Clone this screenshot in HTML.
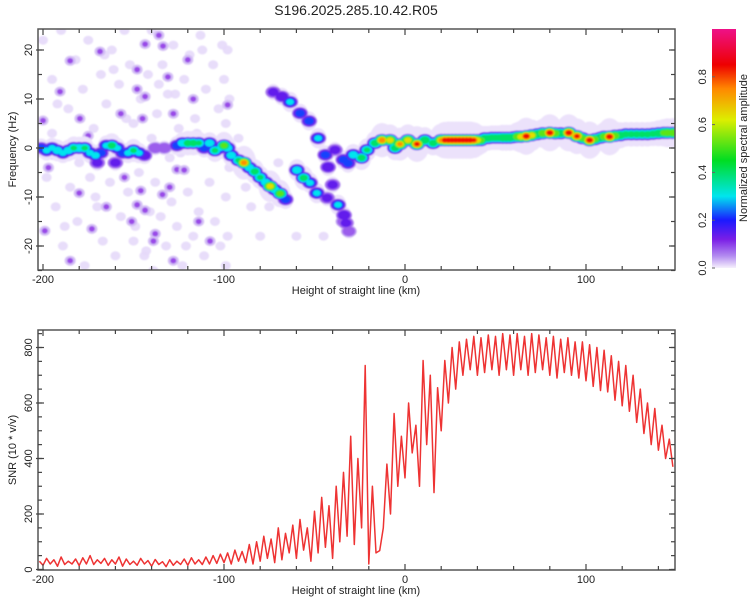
<!DOCTYPE html>
<html><head><meta charset="utf-8"><style>
html,body{margin:0;padding:0;background:#fff;}
svg{display:block;font-family:"Liberation Sans",sans-serif;}
</style></head><body>
<svg id="chart" width="750" height="600" viewBox="0 0 750 600" xmlns="http://www.w3.org/2000/svg">
<defs>
<clipPath id="clipTop"><rect x="38" y="29" width="637" height="241"/></clipPath>
<clipPath id="clipBot"><rect x="38" y="330" width="637" height="240"/></clipPath>
<filter id="soft" x="-5%" y="-5%" width="110%" height="110%"><feGaussianBlur stdDeviation="0.9"/></filter>
<linearGradient id="cbgrad" x1="0" y1="1" x2="0" y2="0">
<stop offset="0" stop-color="#f6f0fc"/><stop offset="0.05" stop-color="#b38cf0"/>
<stop offset="0.12" stop-color="#7a1ee6"/><stop offset="0.2" stop-color="#1a1aff"/>
<stop offset="0.3" stop-color="#00e5ee"/><stop offset="0.45" stop-color="#00dd22"/>
<stop offset="0.62" stop-color="#ddee00"/><stop offset="0.75" stop-color="#ff8800"/>
<stop offset="0.85" stop-color="#ee0000"/><stop offset="1" stop-color="#ee1188"/>
</linearGradient>
</defs>
<text x="356" y="15" font-size="14" text-anchor="middle" fill="#222">S196.2025.285.10.42.R05</text>
<g id="topPanel"></g>
<g id="botPanel"></g>
<g id="cb">
<rect x="712" y="29" width="24" height="239" fill="url(#cbgrad)"/>
<text transform="translate(747,148) rotate(-90)" font-size="11" text-anchor="middle" fill="#222">Normalized spectral amplitude</text>
</g>
</svg>
<script>
// ---------- data ----------
const ridgeH=[-201,-198,-195,-192,-189,-186,-183,-180,-177,-174,-171,-168,-165,-162,-159,-156,-153,-150,-147,-144,-170,-160,-138,-133,
-126,-123,-120,-117,-114,-111,-108,-105,-102,-100,-98,-96,-92,-89,-86,-83,-80,-77,-74.5,-72,-69,-66,
-72.8,-68,-63.5,-58,-53,-48,-44,-42.5,-40,-37,-33.7,-32.6,-34,-31,
-59.7,-56,-52.5,-48.7,-43,
-38.7,-34,-31.5,-28.6,-24,-21,-16.6,-12.7,-8.3,-5.5,-2.8,1.6,6.6,11,15.5,
20,22,24,26,28,30,32,34,36,38,40,42,44,46,48,50,52,54,56,58,60,62,64,67,70,73,76,80,83,86,90.5,95,98,102,105,108,110,113,116,119,122,125,128,131,134,137,140,143,145,148];
const ridgeF=[0,-0.5,0,-0.5,-1,-0.5,0,0,0,-1,-1.5,-1,0.5,0.5,0,-1,-1,-0.5,-1,-1.5,-3,-3,0,0,
0.5,1,1,1,1,0,1,-0.5,0,0.5,0,-1.5,-2.5,-3,-4,-4.8,-6,-7,-7.8,-8.5,-9.3,-10.5,
11.4,10.5,9.4,7.1,5.5,2,-1.4,-3.9,-7.5,-11.6,-13.7,-15.3,-15,-17,
-4.5,-6.1,-7.1,-9.2,-10.2,
-0.4,-2.4,-3.1,-1.4,-2,-0.4,1,1.6,1.6,0,0.8,1.6,0.8,1.6,1,
1.6,1.6,1.6,1.6,1.6,1.6,1.6,1.6,1.6,1.6,1.6,1.6,2,2,2.1,2.1,2.1,2.1,2.1,2.1,2.2,2.3,2.3,2.4,2.6,2.8,3,3.1,3,3,3.1,2.4,2,1.6,1.8,2.1,2.3,2.3,2.5,2.6,2.8,2.8,2.8,2.8,2.8,2.9,3,3.1,3.1,3.1,3.2];
const ridgeA=[0.25,0.3,0.3,0.35,0.3,0.35,0.4,0.38,0.4,0.3,0.32,0.25,0.3,0.45,0.3,0.25,0.3,0.4,0.3,0.2,0.15,0.15,0.1,0.1,
0.25,0.35,0.45,0.45,0.4,0.25,0.35,0.4,0.3,0.55,0.35,0.35,0.4,0.78,0.35,0.45,0.4,0.35,0.7,0.35,0.55,0.25,
0.15,0.2,0.3,0.25,0.25,0.3,0.25,0.2,0.15,0.3,0.2,0.15,0.08,0.08,
0.35,0.45,0.3,0.3,0.15,
0.15,0.25,0.25,0.35,0.45,0.4,0.45,0.8,0.7,0.45,0.75,0.7,0.85,0.5,0.45,
0.75,0.88,0.9,0.9,0.9,0.9,0.9,0.9,0.9,0.85,0.7,0.55,0.45,0.45,0.45,0.45,0.45,0.5,0.5,0.5,0.45,0.6,0.7,0.9,0.7,0.5,0.6,0.9,0.6,0.5,0.9,0.85,0.55,0.9,0.55,0.5,0.6,0.9,0.6,0.5,0.45,0.45,0.45,0.45,0.45,0.45,0.5,0.55,0.6,0.62,0.6];
const darkH=[-143.6,-133.7,-136,-168.5,-148,-131,-185,-190.6,-143.6,-117,-148,-200,-179.6,-157,-128,-98,-145,-194.5,-160,-197,-126,-122,-146,-134,-148,-143.6,-130,-180,-138,-139,-199,-128,-185,-114,-173,-151,-107.7,-175,-155,-120,-165];
const darkF=[21.2,20.8,23,19.7,16,14.5,17.8,11.5,10.5,10,12,5.6,6,7,7,8.8,6,-1.4,-3.5,-4,-4.4,-4.5,-8.7,-9.5,-11.6,-12.7,-8,-9.2,-17.5,-19,-16.9,-23,-23,-15,-16.5,-15,-19,2.5,-6,18,-12];
const lightH=[-200,-195,-190,-186,-182,-178,-175,-172,-168,-165,-162,-158,-155,-152,-150,-146,-142,-140,-137,-134,-131,-128,-125,-122,-119,-116,-113,-110,-106,-103,-101,-198,-193,-189,-185,-181,-177,-174,-170,-167,-163,-160,-157,-153,-150,-147,-144,-141,-138,-135,-132,-129,-126,-123,-120,-117,-114,-111,-108,-105,-102,-99,-98,-99,-97,-100,-99,-88,-80,-60,-45,-195,-180,-140,-130,-115,-92,-70,-85,-75,-192,-176,-161,-149,-136,-121,-109,-188,-171,-154,-139,-124,-112,-183,-166,-143,-127,-97,-98];
const lightF=[22,14,24,8,18,12,22,4,15,9,20,13,24,17,5,10,15,24,7,17,11,21,4,14,19,6,23,12,17,8,21,-6,-12,-20,-8,-15,-24,-6,-12,-19,-7,-22,-14,-9,-19,-5,-22,-13,-7,-14,-20,-11,-16,-24,-9,-18,-13,-22,-7,-15,-20,-10,-18,-24,-4,14,5,-8,-18,-18,-18,3,-3,2,-2,3,2,-3,-12,-12,9,2,16,-16,13,-20,1,-16,-10,6,-25,-1,20,1,19,-21,11,10,20];
const snrH=[];for(let i=0;i<176;i++)snrH.push(-202+2*i);
const snrV=[30,15,40,20,35,12,45,18,30,20,
38,14,42,20,50,18,35,22,40,15,
35,20,45,12,38,18,30,15,40,20,
32,12,36,18,28,10,35,15,30,18,
38,15,42,20,35,18,45,20,50,22,
55,25,60,20,70,30,65,25,90,20,
100,30,120,40,110,25,150,35,130,60,
160,40,180,70,150,30,210,60,260,80,
230,40,300,100,350,120,480,90,400,150,
735,20,300,60,68,150,380,200,562,300,
480,330,600,420,520,300,753,450,700,277,
655,500,753,600,800,650,820,700,830,720,
840,700,835,710,845,720,840,700,850,720,
845,700,850,720,840,700,850,710,845,720,
835,700,840,690,830,710,835,700,820,690,
820,680,810,660,800,645,790,640,770,610,
750,590,735,570,700,530,650,490,600,450,
580,430,520,400,470,370];
const xTicks=[-200,-100,0,100];
const fTicks=[-20,-10,0,10,20];
const snrTicks=[0,200,400,600,800];
const cbTicks=[0.0,0.2,0.4,0.6,0.8];
// ---------- scales ----------
const X0=38,X1=675;
const xs=h=>405+h*1.81;
const ys=f=>148-f*4.9;
const yb=v=>569.5-v*0.2775;
const NS='http://www.w3.org/2000/svg';
function mk(tag,attrs,parent){const e=document.createElementNS(NS,tag);for(const k in attrs)e.setAttribute(k,attrs[k]);parent.appendChild(e);return e;}
const stops=[[0,[246,240,252]],[0.05,[179,140,240]],[0.12,[122,30,230]],[0.2,[26,26,255]],[0.3,[0,229,238]],[0.45,[0,221,34]],[0.62,[221,238,0]],[0.75,[255,136,0]],[0.85,[238,0,0]],[1,[238,17,136]]];
function cmap(a){a=Math.max(0,Math.min(1,a));for(let i=1;i<stops.length;i++){if(a<=stops[i][0]){const t=(a-stops[i-1][0])/(stops[i][0]-stops[i-1][0]);const c=stops[i-1][1].map((v,j)=>Math.round(v+(stops[i][1][j]-v)*t));return 'rgb('+c.join(',')+')';}}return 'rgb(238,17,136)';}
const topG=document.getElementById('topPanel'),botG=document.getElementById('botPanel'),cbG=document.getElementById('cb');
// ---------- spectrogram ----------
const gC=mk('g',{'clip-path':'url(#clipTop)'},topG);
const gS=mk('g',{filter:'url(#soft)'},gC);


for(let i=0;i<lightH.length;i++){const e=mk('ellipse',{cx:xs(lightH[i]),cy:ys(lightF[i]),rx:5,ry:4.5,fill:'#e6d9f9',opacity:0.9},gS);

}
for(let i=0;i<darkH.length;i++){const e1=mk('ellipse',{cx:xs(darkH[i]),cy:ys(darkF[i]),rx:5.5,ry:5,fill:'#d4bff5'},gS);


const e=mk('ellipse',{cx:xs(darkH[i]),cy:ys(darkF[i]),rx:3,ry:2.8,fill:'#9a4ae8'},gS);

}
// wide faint halo around ridge
for(let i=0;i<ridgeH.length;i++){
 const e=mk('ellipse',{cx:xs(ridgeH[i]),cy:ys(ridgeF[i]),rx:(6+ridgeA[i]*8).toFixed(2),ry:(6+ridgeA[i]*14).toFixed(2),fill:'#ece2fb'},gS);
 
 }
const levels=[0.02,0.06,0.12,0.2,0.28,0.38,0.5,0.62,0.72,0.82];
levels.forEach(l=>{
 for(let i=0;i<ridgeH.length;i++){const a=ridgeA[i];if(a<=l)continue;
  const s=Math.sqrt(1-l/(a+0.05));
  const e=mk('ellipse',{cx:xs(ridgeH[i]),cy:ys(ridgeF[i]),rx:(8.5*s).toFixed(2),ry:(6.5*s).toFixed(2),fill:cmap(l+0.02)},gS);
  
  }
});
// ---------- axes helper ----------
function axes(g,yT,yB,ymap,yticks,yminor,ylabel,xlabel){
 const fr=mk('rect',{x:X0,y:yT,width:X1-X0,height:yB-yT,fill:'none',stroke:'#555','stroke-width':1.5},g);
 
 
 for(let h=-200;h<=140;h+=20){const x=xs(h),L=(h%100===0)?6:4;
  mk('line',{x1:x,x2:x,y1:yB,y2:yB-L,stroke:'#444','stroke-width':1.2},g);
  mk('line',{x1:x,x2:x,y1:yT,y2:yT+L,stroke:'#444','stroke-width':1.2},g);}
 xTicks.forEach(h=>{const t=mk('text',{x:xs(h),y:yB+13,'font-size':11,'text-anchor':'middle',fill:'#222'},g);t.textContent=h;
  
  });
 yminor.forEach(v=>{const y=ymap(v);mk('line',{x1:X0,x2:X0+4,y1:y,y2:y,stroke:'#444','stroke-width':1.2},g);mk('line',{x1:X1,x2:X1-4,y1:y,y2:y,stroke:'#444','stroke-width':1.2},g);});
 yticks.forEach(v=>{const y=ymap(v);mk('line',{x1:X0-2,x2:X0+6,y1:y,y2:y,stroke:'#444','stroke-width':1.2},g);mk('line',{x1:X1,x2:X1-6,y1:y,y2:y,stroke:'#444','stroke-width':1.2},g);
  const t=mk('text',{transform:'translate(32,'+y+') rotate(-90)','font-size':11,'text-anchor':'middle',fill:'#222'},g);t.textContent=v;
  
  });
 const yl=mk('text',{transform:'translate(16,'+((yT+yB)/2)+') rotate(-90)','font-size':11,'text-anchor':'middle',fill:'#222'},g);yl.textContent=ylabel;
 
 
 const xl=mk('text',{x:356,y:yB+24,'font-size':11,'text-anchor':'middle',fill:'#222'},g);xl.textContent=xlabel;
 
 
}
const fMinor=[];for(let f=-25;f<=24;f+=5)fMinor.push(f);
axes(topG,29,270,ys,fTicks,fMinor,'Frequency (Hz)','Height of straight line (km)');
// ---------- SNR line ----------
const gL=mk('g',{'clip-path':'url(#clipBot)'},botG);
let d='';for(let i=0;i<snrH.length;i++)d+=(i?'L':'M')+xs(snrH[i]).toFixed(1)+','+yb(snrV[i]).toFixed(1);
const p=mk('path',{d:d,fill:'none',stroke:'#ee3333','stroke-width':1.5,'stroke-linejoin':'round'},gL);


const sMinor=[];for(let v=0;v<=850;v+=50)sMinor.push(v);
axes(botG,330,570,yb,snrTicks,sMinor,'SNR (10 * v/v)','Height of straight line (km)');
// ---------- colorbar ticks ----------
cbTicks.forEach(v=>{const y=268-v*239;
 const t=mk('text',{transform:'translate(706,'+y+') rotate(-90)','font-size':11,'text-anchor':'middle',fill:'#222'},cbG);t.textContent=v.toFixed(1);
 
 
 mk('line',{x1:712,x2:715,y1:y,y2:y,stroke:'#666'},cbG);});
</script>
</body></html>
